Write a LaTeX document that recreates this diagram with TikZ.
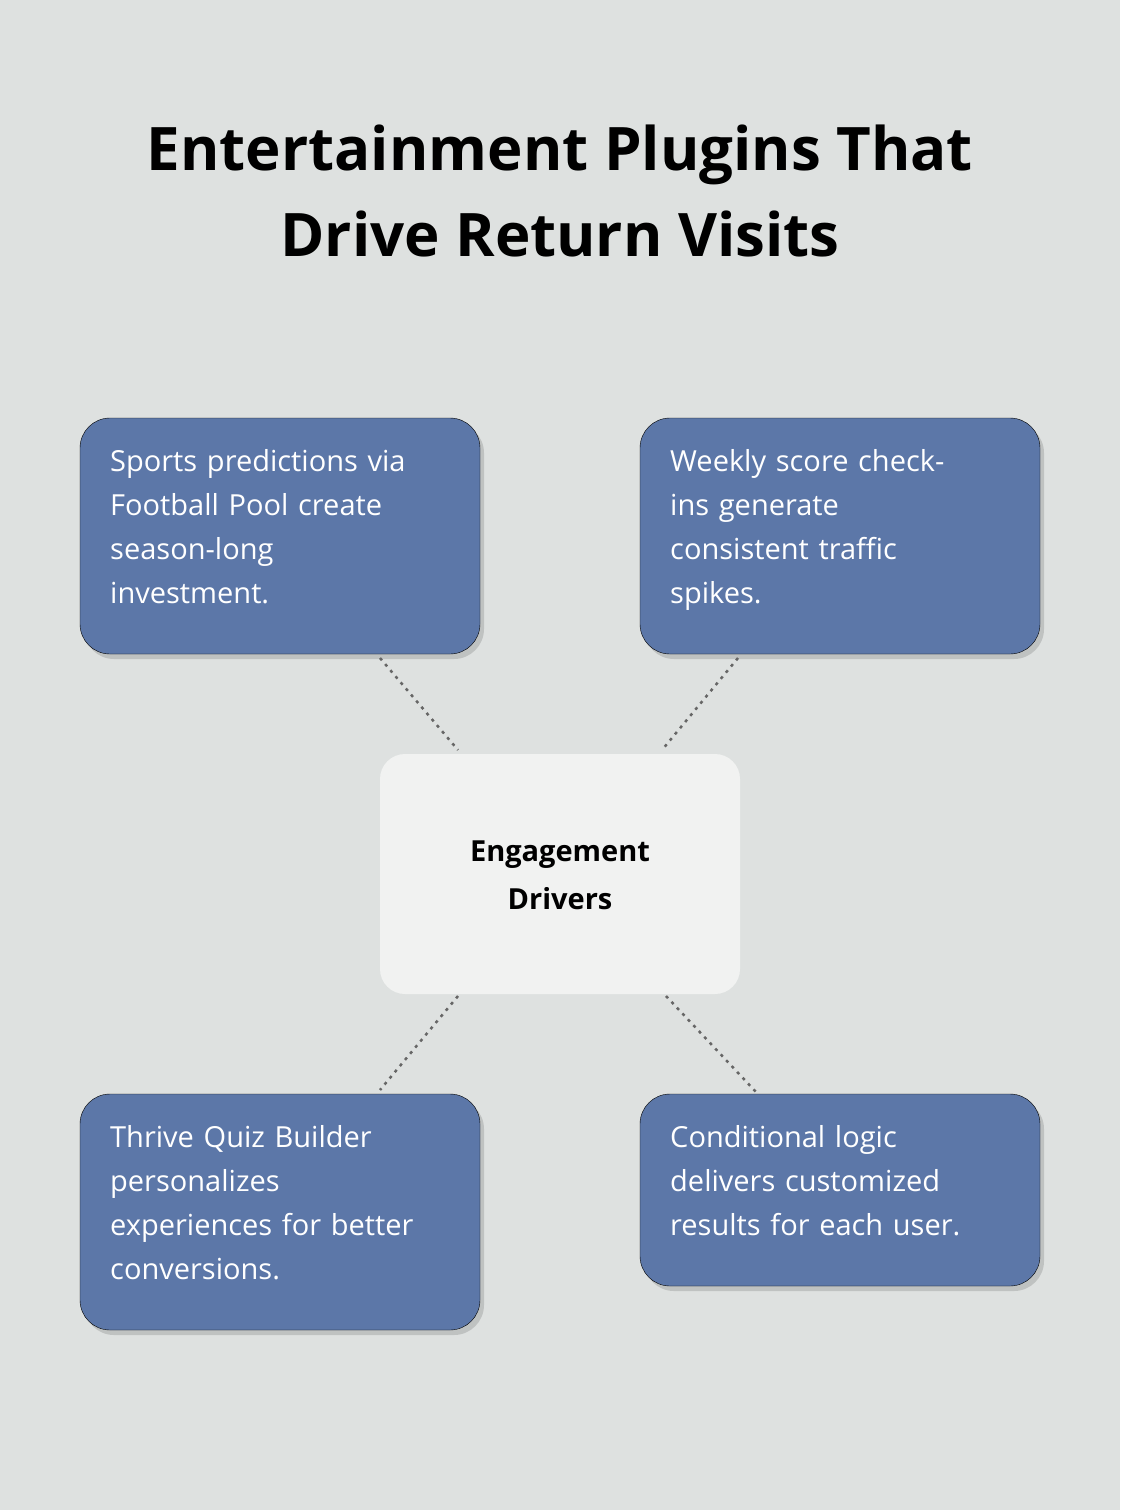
\documentclass[tikz,border=0pt]{standalone}
\usepackage{fontspec}
\setmainfont{Open Sans}
\usetikzlibrary{shadows}
\definecolor{bg}{HTML}{DEE1E0}
\definecolor{boxc}{HTML}{5C77A8}
\definecolor{cen}{HTML}{F1F2F1}
\begin{document}
\begin{tikzpicture}[x=1pt,y=-1pt,
  box/.style={fill=boxc,rounded corners=30pt,drop shadow={shadow xshift=4pt,shadow yshift=-5pt,opacity=0.25,fill=black!60}},
  txt/.style={anchor=north west,text=white,align=left,text width=340pt,inner sep=0pt,font=\fontsize{29}{44}\selectfont},
  conn/.style={draw=black!60,line width=2.5pt,dash pattern=on 3pt off 5pt}]
\fill[bg] (0,0) rectangle (1120,1510);
\useasboundingbox (0,0) rectangle (1120,1510);
\node[font=\fontsize{60}{86}\selectfont\bfseries,align=center] (title) at (560,191) {Entertainment Plugins That\\Drive Return Visits};
\draw[box] (80,418) rectangle (480,654);
\draw[box] (640,418) rectangle (1040,654);
\draw[box] (80,1094) rectangle (480,1330);
\draw[box] (640,1094) rectangle (1040,1286);
\fill[cen,rounded corners=25pt] (380,754) rectangle (740,994);
\node[txt] (a) at (110,449) {Sports predictions via\\Football Pool create\\season-long\\investment.};
\node[txt] (b) at (670,449) {Weekly score check-\\ins generate\\consistent traffic\\spikes.};
\node[txt] (c) at (110,1125) {Thrive Quiz Builder\\personalizes\\experiences for better\\conversions.};
\node[txt] (d) at (670,1125) {Conditional logic\\delivers customized\\results for each user.};
\node[font=\fontsize{29}{48}\selectfont\bfseries,align=center] (e) at (560,875) {Engagement\\Drivers};
\coordinate (a1) at (380,658); \coordinate (a2) at (458,750);
\coordinate (b1) at (738,658); \coordinate (b2) at (662,750);
\coordinate (c1) at (458,996); \coordinate (c2) at (380,1090);
\coordinate (d1) at (666,996); \coordinate (d2) at (756,1092);
\draw[conn] (a1) -- (a2); \draw[conn] (b1) -- (b2);
\draw[conn] (c1) -- (c2); \draw[conn] (d1) -- (d2);
\end{tikzpicture}
\end{document}
